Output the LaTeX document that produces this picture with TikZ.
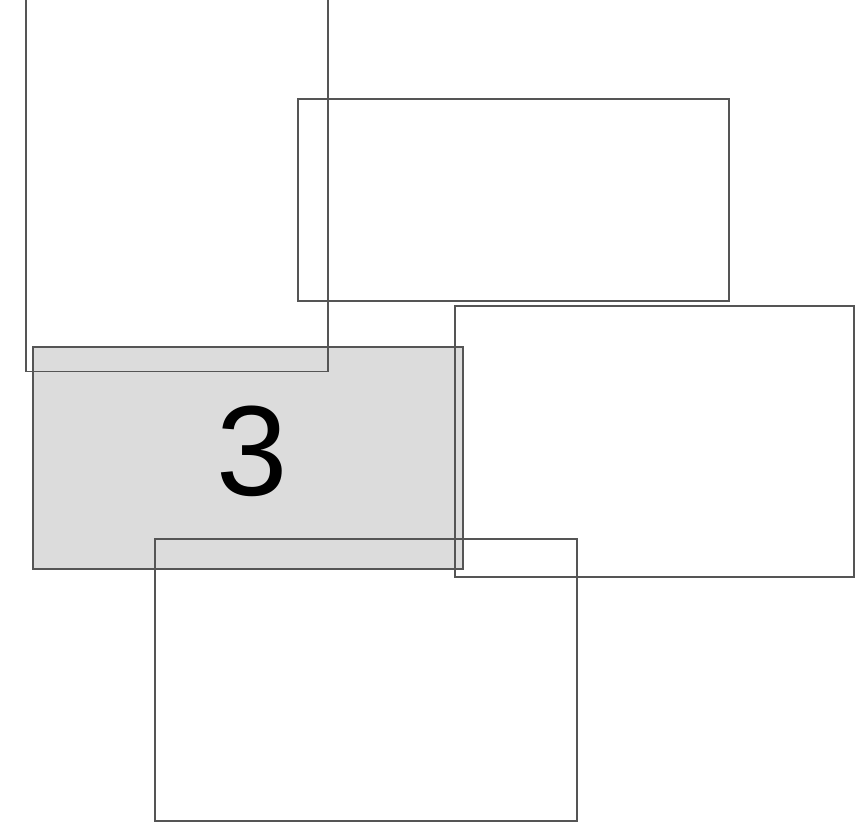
\documentclass[tikz,border=0pt]{standalone}
\usepackage{fontspec}
\setmainfont{Liberation Sans}
\usepackage{tikz}
\usetikzlibrary{positioning}
\definecolor{edgegray}{HTML}{555555}
\definecolor{softgray}{HTML}{DCDCDC}
\tikzset{every node/.append style={align=center}}

\begin{document}
\begin{tikzpicture}[x=0.02cm, y=-0.02cm,
  frame/.style={draw=edgegray, line width=0.9pt, inner sep=0pt, outer sep=0pt}]
  \useasboundingbox (0,0) rectangle (855,827);
  \clip (0,0) rectangle (855,827);
  % shaded block first, the open frames lie over it
  \node[frame, fill=softgray, minimum width=8.6cm, minimum height=4.44cm] (shade) at (248,458) {};
  \node[font=\fontsize{73}{73}\selectfont] (num) at (252,451) {3};

  \node[frame, minimum width=6.04cm, minimum height=7.82cm] (tall) at (177,176) {};
  \node[frame, minimum width=8.62cm, minimum height=4.04cm] (upper) at (513.5,200) {};
  \node[frame, minimum width=7.98cm, minimum height=5.42cm] (side) at (654.5,441.5) {};
  \node[frame, minimum width=8.44cm, minimum height=5.64cm] (lower) at (366,680) {};
\end{tikzpicture}
\end{document}
